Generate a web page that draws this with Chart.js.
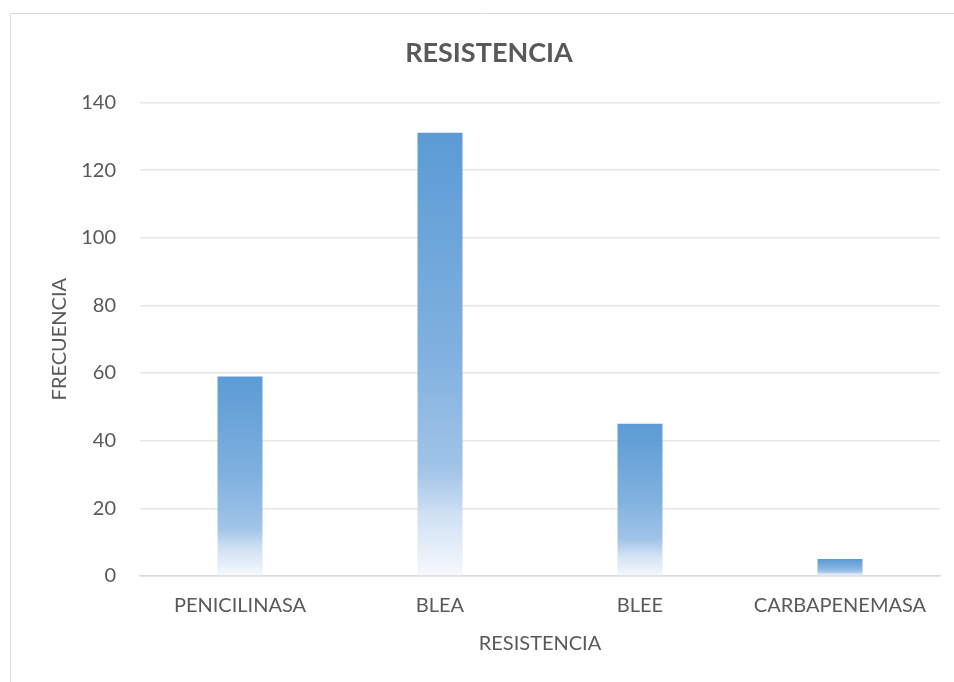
<!DOCTYPE html>
<html>
<head>
<meta charset="utf-8">
<script src="https://cdn.jsdelivr.net/npm/chart.js@4/dist/chart.umd.min.js"></script>
<style>
  html, body { margin: 0; padding: 0; background: #ffffff; }
  #wrap { width: 954px; height: 682px; position: relative; }
</style>
</head>
<body>
<div id="wrap"><canvas id="chart" width="954" height="682"></canvas></div>
<script>
// Resistance types and how often each was found
const categories = ['PENICILINASA', 'BLEA', 'BLEE', 'CARBAPENEMASA'];
const frecuencia = [59, 131, 45, 5];
const yTicks = [0, 20, 40, 60, 80, 100, 120, 140];

const TEXT = '#595959';
const FONT = 'Lato, "Open Sans", sans-serif';

// Vertical fade per bar: solid blue at the top, almost white at the base
function barGradient(ctx) {
  const chart = ctx.chart;
  if (!chart.chartArea || !chart.scales.y) return '#5B9BD5';
  const y = chart.scales.y;
  const top = y.getPixelForValue(ctx.raw);
  const base = y.getPixelForValue(0);
  if (!isFinite(top) || !isFinite(base) || base - top < 1) return '#5B9BD5';
  const g = chart.ctx.createLinearGradient(0, top, 0, base);
  g.addColorStop(0, '#5B9BD5');
  g.addColorStop(0.5, '#80B1DF');
  g.addColorStop(0.76, '#A1C4E8');
  g.addColorStop(0.86, '#CFE0F3');
  g.addColorStop(1, '#F6F9FD');
  return g;
}

// Thin frame around the chart
const framePlugin = {
  id: 'frame',
  beforeDraw(chart) {
    const c = chart.ctx;
    c.save();
    c.strokeStyle = '#D9D9D9';
    c.lineWidth = 1;
    c.beginPath();
    c.moveTo(10.5, chart.height + 2);
    c.lineTo(10.5, 13.5);
    c.lineTo(chart.width + 2, 13.5);
    c.stroke();
    c.restore();
  }
};

new Chart(document.getElementById('chart'), {
  type: 'bar',
  data: {
    labels: categories,
    datasets: [{
      label: 'FRECUENCIA',
      data: frecuencia,
      backgroundColor: barGradient,
      borderWidth: 0,
      barPercentage: 0.225,
      categoryPercentage: 1
    }]
  },
  plugins: [framePlugin],
  options: {
    responsive: false,
    animation: false,
    layout: { padding: { left: 38, right: 14, top: 37, bottom: 26 } },
    plugins: {
      legend: { display: false },
      tooltip: { enabled: false },
      title: {
        display: true,
        text: 'RESISTENCIA',
        color: TEXT,
        font: { family: FONT, size: 27, weight: 'bold' },
        padding: { top: 0, bottom: 33 }
      }
    },
    scales: {
      x: {
        afterFit(scale) { scale.height = 80; },
        grid: { display: false, drawTicks: false },
        border: { display: true, color: '#D9D9D9', width: 1.5 },
        ticks: {
          color: TEXT,
          font: { family: FONT, size: 20 },
          padding: 18,
          maxRotation: 0,
          autoSkip: false
        },
        title: {
          display: true,
          text: 'RESISTENCIA',
          color: TEXT,
          font: { family: FONT, size: 20 },
          padding: { top: 14, bottom: 0 }
        }
      },
      y: {
        min: 0,
        max: 140,
        afterFit(scale) { scale.width = 102; },
        afterBuildTicks(scale) { scale.ticks = yTicks.map(v => ({ value: v })); },
        grid: { color: '#E7E7E7', lineWidth: 1.5, drawTicks: false },
        border: { display: false },
        ticks: {
          color: TEXT,
          font: { family: FONT, size: 20 },
          padding: 24
        },
        title: {
          display: true,
          text: 'FRECUENCIA',
          color: TEXT,
          font: { family: FONT, size: 20 },
          padding: { top: 10, bottom: 0 }
        }
      }
    }
  }
});
</script>
</body>
</html>
